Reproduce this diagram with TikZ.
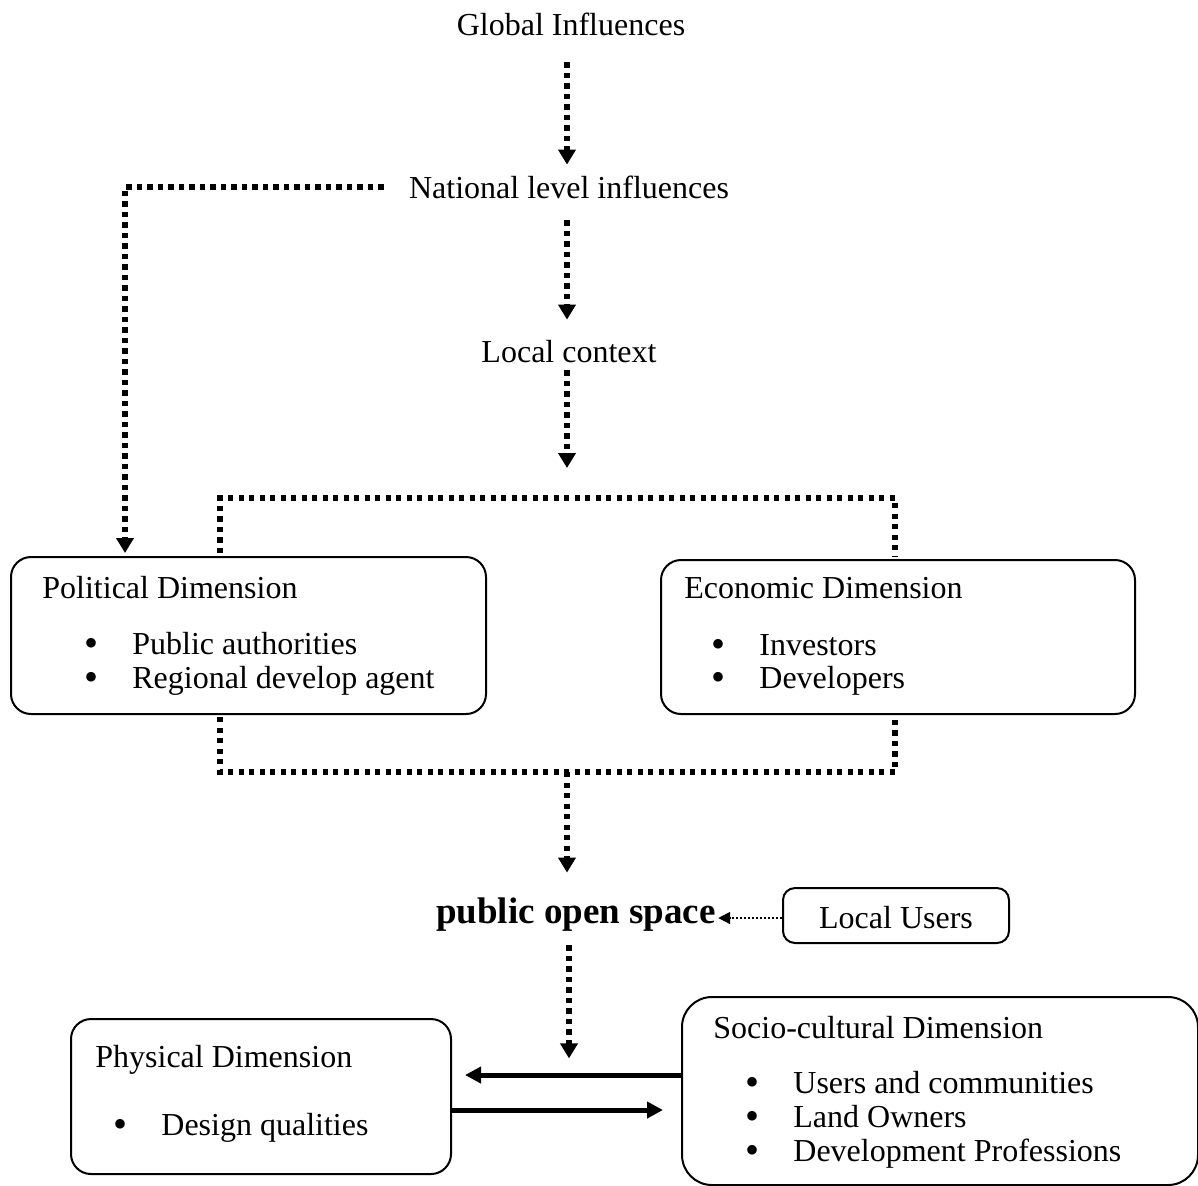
\documentclass[tikz,border=0pt]{standalone}
\usepackage{fontspec}
\setmainfont{Liberation Serif}
\usetikzlibrary{arrows.meta,calc}
% bullet a little heavier than the text bullet, kept on the same height
\newcommand{\itembullet}{\makebox[24pt][l]{\smash{\raisebox{-1.1pt}{\fontsize{20pt}{20pt}\selectfont\textbullet}}}}

\begin{document}
\begin{tikzpicture}[x=0.5pt,y=-0.5pt,
  every node/.style={font=\fontsize{16pt}{19pt}\selectfont},
  lbl/.style={inner sep=0pt, text height=11pt, text depth=3pt},
  txt/.style={inner sep=0pt, anchor=base west},
  itm/.style={txt, text height=10pt, text depth=3pt},
  dimbox/.style={draw, line width=1pt, rounded corners=10pt, inner sep=0pt, anchor=north west},
  dotline/.style={line width=2.6pt, dash pattern=on 2.6pt off 2.65pt},
  dotarrow/.style={dotline, -{Triangle[length=7.5pt,width=8.5pt]}},
  finedot/.style={line width=0.9pt, dash pattern=on 1pt off 1pt, -{Triangle[length=6pt,width=6pt]}},
  bigarrow/.style={line width=2.5pt, -{Triangle[length=8pt,width=8pt]}}
]
\useasboundingbox (0,0) rectangle (1198,1185);

% vertical chain of influences
\node[lbl] (glob) at (571,27) {Global Influences};
\node[lbl] (nat)  at (569,190) {National level influences};
\node[lbl] (loc)  at (569,354) {Local context};

% political and economic dimension boxes
\node[dimbox, minimum width=237.5pt, minimum height=78.5pt] (pol) at (10,556) {};
\node[dimbox, minimum width=237pt, minimum height=77pt] (eco) at (660,559) {};
\node[txt] (polT) at (42,598) {Political Dimension};
\node[itm] (polA) at (84,654) {\itembullet Public authorities};
\node[itm] (polB) at (84,688) {\itembullet Regional develop agent};
\node[txt] (ecoT) at (684,598) {Economic Dimension};
\node[itm] (ecoA) at (711,655) {\itembullet Investors};
\node[itm] (ecoB) at (711,688) {\itembullet Developers};

% public open space and local users
\node[inner sep=0pt, text height=13pt, text depth=4pt,
      font=\fontsize{18.5pt}{22pt}\selectfont\bfseries] (pos) at (576,914) {public open space};
\node[draw, line width=1pt, rounded corners=6pt, inner sep=0pt,
      minimum width=113pt, minimum height=27.5pt, anchor=north west] (lu) at (782,887) {};
\node[inner sep=0pt] (luT) at (896,918) {Local Users};

% physical and socio-cultural dimension boxes
\node[dimbox, minimum width=190pt, minimum height=77.5pt] (phy) at (70,1018) {};
\node[dimbox, rounded corners=15pt, minimum width=258pt, minimum height=94pt] (soc) at (681,996) {};
\node[txt] (phyT) at (95,1067) {Physical Dimension};
\node[itm] (phyA) at (113,1135) {\itembullet Design qualities};
\node[txt] (socT) at (713,1038) {Socio-cultural Dimension};
\node[itm] (socA) at (745,1093) {\itembullet Users and communities};
\node[itm] (socB) at (745,1127) {\itembullet Land Owners};
\node[itm] (socC) at (745,1161) {\itembullet Development Professions};

% junction points of the dotted brackets
\coordinate (topj) at (567,498);
\coordinate (botj) at (567,772);

% dotted flow arrows
\draw[dotarrow] ($(glob.south)+(-4,21)$) -- ($(glob.south |- nat.north)+(-4,-11)$);
\draw[dotarrow] ($(nat.south)+(-2,16)$) -- ($(loc.north)+(-2,-20)$);
\draw[dotarrow] ($(loc.south)+(-2,2)$) -- ($(topj)+(0,-30)$);
\draw[dotarrow] ($(nat.west)+(-25,-3)$) -| ($(pol.north west)+(115,-3)$);

% brackets joining the two dimensions
\draw[dotline] ($(pol.north west)+(210,-3)$) |- (topj) -| ($(eco.north west)+(235,-3)$);
\draw[dotline] ($(pol.south west)+(210,2)$) |- (botj) -| ($(eco.south west)+(235,2)$);
\draw[dotarrow] (botj) -- ($(botj |- pos.north)+(0,-24)$);

% local users feed into public open space
\draw[finedot] (lu.west |- luT.center) -- ($(luT.center -| pos.east)+(2,0)$);

% public open space down to the physical / socio-cultural pair
\draw[dotarrow] ($(pos.south)+(-7,14)$) -- ++(0,113);
\draw[bigarrow] ($(soc.north west)+(0,79)$) -- ($(phy.north east)+(13,57)$);
\draw[bigarrow] ($(phy.north east)+(0,92)$) -- ($(soc.north west)+(-18,114)$);
\end{tikzpicture}
\end{document}
